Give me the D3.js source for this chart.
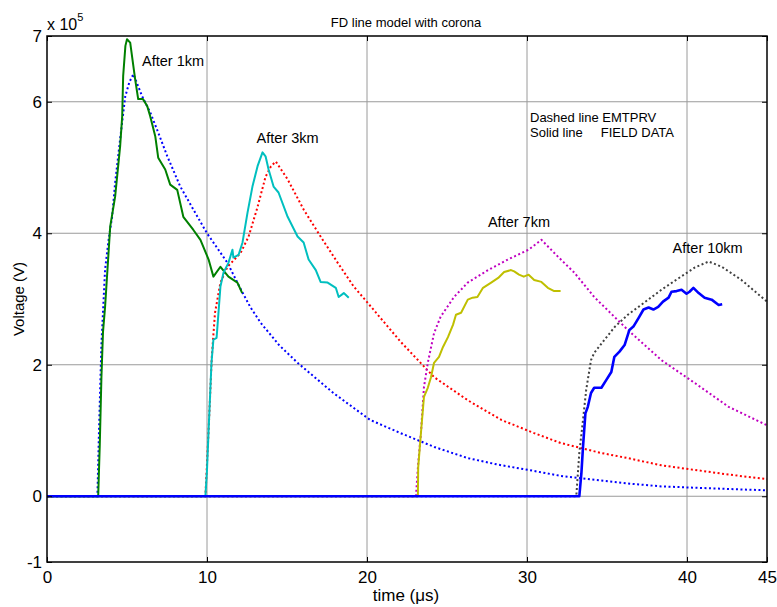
<!DOCTYPE html>
<html>
<head>
<meta charset="utf-8">
<script src="https://cdn.jsdelivr.net/npm/d3@7"></script>
<style>
  body { margin: 0; background: #fff; }
  text { font-family: "Liberation Sans", Arial, sans-serif; fill: #000; }
</style>
</head>
<body>
<div id="chart-area"></div>
<script>
const width = 777;
const height = 607;
const margin = {top: 36, right: 10, bottom: 45, left: 47};

// values are in units of 1e5 V, time in microseconds
const xTicks = [0, 10, 20, 30, 40, 45];
const yTicks = [-1, 0, 2, 4, 6, 7];
const xGrid = [10, 20, 30, 40];
const yGrid = [0, 2, 4, 6];

const emtp1km = [[0,0],[3.15,0],[3.25,1.0],[3.4,2.3],[3.63,3.45],[3.85,3.9],[4.07,4.25],[4.26,4.77],[4.57,5.43],[4.89,6.08],[5.15,6.3],[5.4,6.42],[5.95,6.08],[6.45,5.84],[7.0,5.5],[7.52,5.17],[8.33,4.71],[9.15,4.36],[10.0,4.0],[11.28,3.55],[12.0,3.2],[12.7,2.88],[13.35,2.64],[14.5,2.3],[15.66,2.03],[17.9,1.57],[20.2,1.16],[22.1,0.96],[24.2,0.75],[26.3,0.58],[28.2,0.48],[30.1,0.40],[32.1,0.31],[34.6,0.24],[36.5,0.19],[38.4,0.15],[41.5,0.12],[45,0.09]];
const field1km = [[0,0],[3.2,0],[3.3,0.8],[3.4,1.8],[3.5,2.5],[3.63,2.88],[3.95,4.1],[4.26,4.56],[4.57,5.32],[4.7,5.78],[4.76,6.39],[4.9,6.85],[5.0,6.95],[5.2,6.9],[5.51,6.34],[5.7,6.04],[6.0,6.04],[6.27,5.93],[6.45,5.78],[6.77,5.47],[6.95,5.15],[7.39,4.97],[7.7,4.74],[8.14,4.66],[8.52,4.25],[9.15,4.05],[9.59,3.9],[10.1,3.6],[10.4,3.34],[10.84,3.49],[11.34,3.34],[11.9,3.25],[12.2,3.09]];
const emtp3km = [[0,0],[9.9,0],[10.0,0.5],[10.1,1.0],[10.3,2.12],[10.5,2.79],[10.84,3.25],[11.28,3.49],[12.1,3.7],[12.6,3.95],[13.16,4.4],[13.66,4.86],[14.0,5.02],[14.3,5.09],[15.04,4.82],[16.04,4.36],[17.1,3.95],[18.17,3.55],[19.17,3.19],[20.05,2.94],[22.1,2.35],[24.2,1.81],[26.3,1.46],[28.4,1.16],[30.45,0.96],[32.1,0.81],[34.6,0.66],[36.3,0.58],[38.4,0.47],[40.5,0.40],[42.6,0.33],[45,0.26]];
const field3km = [[0,0],[9.9,0],[10.0,0.4],[10.1,1.0],[10.28,2.03],[10.4,2.38],[10.6,2.41],[10.84,3.19],[11.03,3.4],[11.34,3.55],[11.59,3.75],[11.65,3.63],[11.97,3.67],[12.22,3.86],[12.53,4.31],[12.84,4.71],[13.16,5.02],[13.47,5.23],[13.66,5.17],[13.85,4.97],[14.16,4.71],[14.47,4.62],[15.04,4.25],[15.66,3.95],[16.04,3.86],[16.35,3.6],[16.8,3.44],[17.1,3.26],[17.54,3.25],[18.05,3.17],[18.23,3.03],[18.55,3.09],[18.86,3.02]];
const emtp7km = [[0,0],[23.06,0],[23.2,0.5],[23.37,0.96],[23.56,1.66],[23.8,2.03],[24.19,2.48],[24.6,2.73],[25.44,3.03],[26.3,3.25],[27.57,3.44],[28.8,3.6],[30.1,3.75],[30.9,3.9],[31.95,3.64],[32.96,3.4],[34.2,3.03],[36.3,2.53],[38.4,2.07],[40.5,1.72],[42.6,1.36],[45,1.08]];
const field7km = [[0,0],[23.18,0],[23.2,0.44],[23.4,1.05],[23.56,1.51],[23.8,1.65],[24.0,1.81],[24.19,2.03],[24.5,2.12],[24.75,2.27],[25.06,2.42],[25.38,2.61],[25.56,2.76],[25.88,2.79],[26.3,2.99],[26.6,3.02],[26.9,3.03],[27.25,3.17],[27.76,3.25],[28.2,3.32],[28.57,3.41],[29.0,3.44],[29.2,3.42],[29.5,3.37],[29.8,3.34],[30.1,3.37],[30.45,3.29],[30.9,3.26],[31.3,3.17],[31.7,3.12],[32.1,3.12]];
const emtp10km = [[0,0],[33.08,0],[33.27,0.66],[33.5,1.16],[33.7,1.62],[34.0,2.07],[34.2,2.18],[34.84,2.38],[35.5,2.58],[36.3,2.76],[37.3,2.94],[38.4,3.14],[39.5,3.32],[40.5,3.48],[41.35,3.57],[42.17,3.49],[43.4,3.29],[45,2.96]];
const field10km = [[0,0],[33.27,0],[33.4,0.35],[33.5,0.75],[33.65,1.26],[33.8,1.36],[34.0,1.57],[34.2,1.65],[34.65,1.65],[34.96,1.77],[35.27,1.89],[35.46,2.12],[35.78,2.2],[36.1,2.3],[36.4,2.53],[36.65,2.58],[36.97,2.71],[37.28,2.84],[37.6,2.87],[37.9,2.84],[38.2,2.88],[38.5,2.96],[38.85,3.02],[39.03,3.11],[39.35,3.12],[39.66,3.14],[39.97,3.08],[40.16,3.11],[40.4,3.17],[40.73,3.09],[41.1,3.02],[41.54,2.99],[41.98,2.91],[42.2,2.92]];

const labels = [
    {text: "After 1km", t: 5.94, v: 6.54},
    {text: "After 3km", t: 13.1, v: 5.37},
    {text: "After 7km", t: 27.56, v: 4.09},
    {text: "After 10km", t: 39.1, v: 3.7}
];

const series = [
    {data: emtp1km, color: "#0000ff", dashed: true},
    {data: emtp3km, color: "#ff0000", dashed: true},
    {data: emtp7km, color: "#c000c0", dashed: true},
    {data: emtp10km, color: "#404040", dashed: true},
    {data: field1km, color: "#008000", dashed: false},
    {data: field3km, color: "#00bfbf", dashed: false},
    {data: field7km, color: "#bfbf00", dashed: false},
    {data: field10km, color: "#0000ff", dashed: false, wide: true}
];

const svg = d3.select("#chart-area")
    .append("svg")
    .attr("width", width)
    .attr("height", height);

const x = d3.scaleLinear().domain([0, 45]).range([margin.left, 767]);
const y = d3.scaleLinear().domain([-1, 7]).range([562, margin.top]);

// grid
svg.append("g").selectAll("line").data(xGrid).enter().append("line")
    .attr("x1", d => x(d)).attr("x2", d => x(d))
    .attr("y1", y(7)).attr("y2", y(-1))
    .attr("stroke", "#9a9a9a").attr("stroke-width", 1);
svg.append("g").selectAll("line").data(yGrid).enter().append("line")
    .attr("x1", x(0)).attr("x2", x(45))
    .attr("y1", d => y(d)).attr("y2", d => y(d))
    .attr("stroke", "#9a9a9a").attr("stroke-width", 1);

const line = d3.line()
    .x(d => x(d[0]))
    .y(d => y(d[1]));

svg.append("g").selectAll("path").data(series).enter().append("path")
    .attr("d", d => line(d.data))
    .attr("fill", "none")
    .attr("stroke", d => d.color)
    .attr("stroke-width", d => d.wide ? 2.6 : 2)
    .attr("stroke-linejoin", "round")
    .attr("stroke-dasharray", d => d.dashed ? "2,2.5" : null);

// axes, ticks inside like matlab
const plain = d => String(d);
const xAxisB = d3.axisBottom(x).tickValues(xTicks).tickSize(-5).tickPadding(9).tickFormat(plain);
const xAxisT = d3.axisTop(x).tickValues(xTicks).tickSize(-5).tickFormat("");
const yAxisL = d3.axisLeft(y).tickValues(yTicks).tickSize(-5).tickPadding(5).tickFormat(plain);
const yAxisR = d3.axisRight(y).tickValues(yTicks).tickSize(-5).tickFormat("");

function styleAxis(g) {
    g.selectAll(".domain").remove();
    g.selectAll("line").attr("stroke", "#000");
    g.selectAll("text").style("font-size", "17px").attr("fill", "#000");
}

svg.append("g").attr("transform", `translate(0,${y(-1)})`).call(xAxisB).call(styleAxis);
svg.append("g").attr("transform", `translate(0,${y(7)})`).call(xAxisT).call(styleAxis);
svg.append("g").attr("transform", `translate(${x(0)},0)`).call(yAxisL).call(styleAxis);
svg.append("g").attr("transform", `translate(${x(45)},0)`).call(yAxisR).call(styleAxis);

svg.append("rect")
    .attr("x", x(0)).attr("y", y(7))
    .attr("width", x(45) - x(0)).attr("height", y(-1) - y(7))
    .attr("fill", "none").attr("stroke", "#000").attr("stroke-width", 1.5);

// exponent
const expo = svg.append("text").attr("x", 47).attr("y", 30).style("font-size", "16px");
expo.append("tspan").text("x 10");
expo.append("tspan").attr("dy", -9).style("font-size", "11px").text("5");

svg.append("text")
    .attr("x", 406).attr("y", 27)
    .attr("text-anchor", "middle")
    .style("font-size", "13px")
    .text("FD line model with corona");

svg.append("text")
    .attr("x", 406).attr("y", 601)
    .attr("text-anchor", "middle")
    .style("font-size", "17px")
    .text("time (\u03bcs)");

svg.append("text")
    .attr("transform", "translate(24,299) rotate(-90)")
    .attr("text-anchor", "middle")
    .style("font-size", "15px")
    .text("Voltage (V)");

svg.append("g").selectAll("text").data(labels).enter().append("text")
    .attr("x", d => x(d.t)).attr("y", d => y(d.v))
    .style("font-size", "14.5px")
    .text(d => d.text);

svg.append("text")
    .attr("x", 530).attr("y", 122)
    .style("font-size", "13px")
    .text("Dashed line EMTPRV");
svg.append("text")
    .attr("x", 530).attr("y", 137)
    .attr("xml:space", "preserve")
    .style("white-space", "pre")
    .style("font-size", "13px")
    .text("Solid line     FIELD DATA");
</script>
</body>
</html>
